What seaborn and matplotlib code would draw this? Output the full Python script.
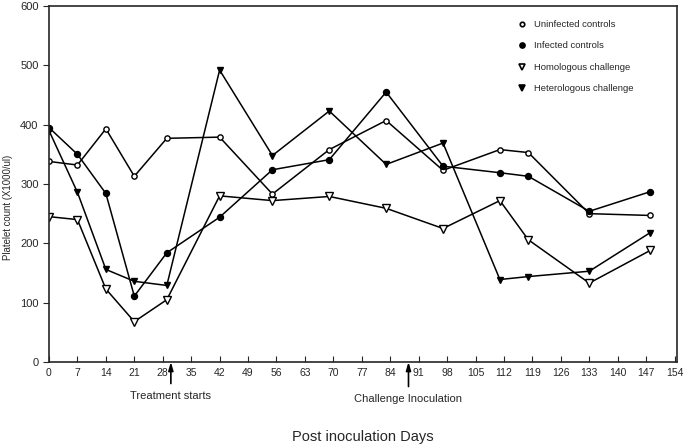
"""Platelet counts over post inoculation days for four groups."""
import pandas as pd
import seaborn as sns
import matplotlib
matplotlib.use("Agg")
import matplotlib.pyplot as plt
from matplotlib.lines import Line2D

sns.set_style("ticks")
plt.rcParams["font.family"] = ["Liberation Sans", "DejaVu Sans"]


############################## Data.

days = [0, 7, 14, 21, 29, 42, 55, 69, 83, 97, 111, 118, 133, 148]
uninfected = [338, 332, 393, 313, 377, 379, 283, 358, 407, 323, 358, 353, 250, 247]
infected = [395, 350, 284, 111, 184, 244, 324, 341, 455, 330, 319, 313, 254, 287]
homologous = [245, 240, 123, 68, 105, 280, 272, 279, 259, 225, 272, 206, 133, 188]
heterologous = [390, 286, 156, 136, 129, 492, 348, 423, 333, 369, 139, 144, 153, 218]

group_names = ["Uninfected controls", "Infected controls",
               "Homologous challenge", "Heterologous challenge"]
xticks = list(range(0, 155, 7))
yticks = [0, 100, 200, 300, 400, 500, 600]

# (label, day, text offset below the axis in pixels)
events = [("Treatment starts", 30, -34), ("Challenge Inoculation", 88.5, -37)]

df = pd.DataFrame({"day": days * 4,
                   "count": uninfected + infected + homologous + heterologous,
                   "group": sum([[g] * len(days) for g in group_names], [])})


############################## Plot it.

fig = plt.figure(figsize=(6.85, 4.46), dpi=100)
ax = fig.add_axes([49 / 685, 1 - 362 / 446, 628 / 685, 356 / 446])

STYLES = {
    "Uninfected controls": dict(marker="o", mfc="white", ms=3.8),
    "Infected controls": dict(marker="o", mfc="black", ms=4.3),
    "Homologous challenge": dict(marker="v", mfc="white", ms=5.5),
    "Heterologous challenge": dict(marker="v", mfc="black", ms=4.8),
}

handles = []
for name in group_names:
    st = STYLES[name]
    sns.lineplot(data=df[df["group"] == name], x="day", y="count",
                 color="black", linewidth=1.1, marker=st["marker"],
                 markersize=st["ms"], markerfacecolor=st["mfc"],
                 markeredgecolor="black", markeredgewidth=1,
                 legend=False, ax=ax)
    handles.append(Line2D([], [], linestyle="none", marker=st["marker"],
                          markersize=st["ms"] * 0.85, markerfacecolor=st["mfc"],
                          markeredgecolor="black", markeredgewidth=1.2,
                          label=name))

# a e s t h e t i c s
ax.set_xlim(0, 154.6)
ax.set_ylim(0, 600)
ax.set_xticks(xticks)
ax.set_yticks(yticks)
ax.tick_params(axis="x", direction="in", length=4, labelsize=7.5, pad=4)
ax.tick_params(axis="y", direction="out", length=4, labelsize=8)
for sp in ax.spines.values():
    sp.set_linewidth(1.2)
    sp.set_visible(True)
ax.set_xlabel("")
ax.set_ylabel("Platelet count (X1000/ul)", fontsize=6.9, va="center")
ax.yaxis.set_label_coords((8 - 49) / 628, (362 - 207) / 356)

ax.legend(handles=handles, loc="upper left", frameon=False, fontsize=6.8,
          handlelength=1.0, handletextpad=0.85, labelspacing=1.32,
          borderpad=0, borderaxespad=0,
          bbox_to_anchor=((517 - 49) / 628, (362 - 20) / 356))

for label, x, dy in events:
    ax.annotate(label, xy=(x, 0), xytext=(0, dy), textcoords="offset pixels",
                ha="center", va="center", fontsize=8, annotation_clip=False,
                arrowprops=dict(arrowstyle="-|>,head_length=0.6,head_width=0.18",
                                color="black", lw=1.2, shrinkA=3, shrinkB=0))

fig.text(363 / 685, 1 - 437 / 446, "Post inoculation Days",
         ha="center", va="center", fontsize=10.5)

plt.savefig("out.png", dpi=100)
plt.close()
